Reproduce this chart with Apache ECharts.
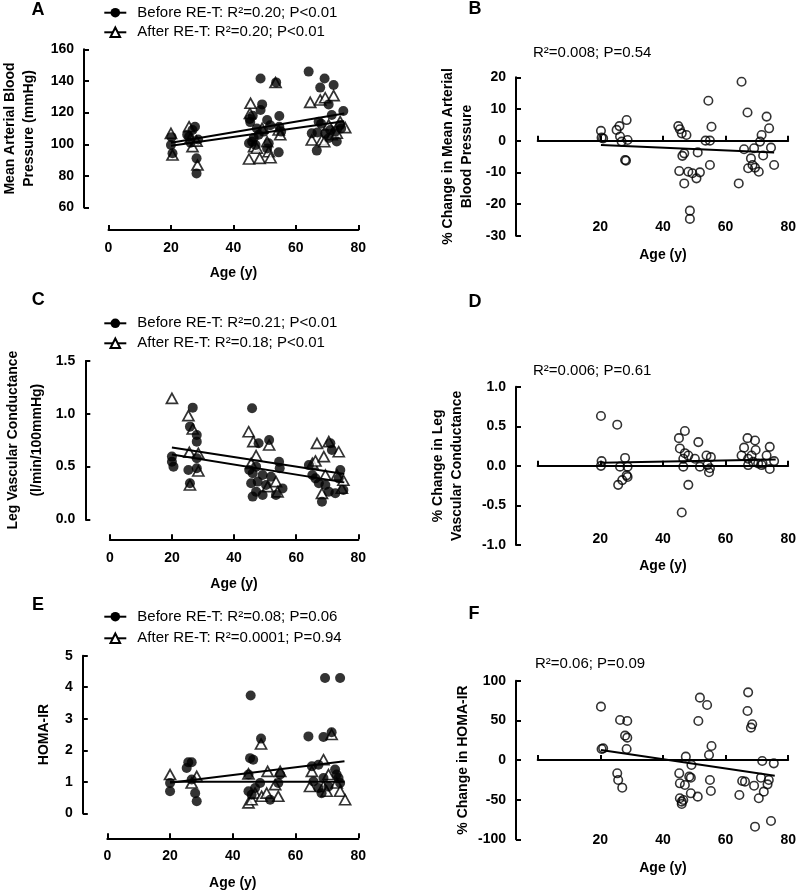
<!DOCTYPE html>
<html>
<head>
<meta charset="utf-8">
<script src="https://cdn.jsdelivr.net/npm/echarts@6/dist/echarts.min.js"></script>
<style>html,body{margin:0;padding:0;background:#fff}#c{width:799px;height:892px}</style>
</head>
<body>
<div id="c"></div>
<script>
// ---------------- DATA ----------------
const ageRange = [0, 80, 20];            // x axis: min, max, step
const mapRange = [60, 160, 20];          // A
const mapChangeRange = [-30, 20, 10];    // B
const lvcRange = [0, 1.5, 0.5];          // C
const lvcChangeRange = [-1, 1, 0.5];     // D
const homaRange = [0, 5, 1];             // E
const homaChangeRange = [-100, 100, 50]; // F

const legendA = ['Before RE-T: R²=0.20; P<0.01', 'After RE-T: R²=0.20; P<0.01'];
const legendC = ['Before RE-T: R²=0.21; P<0.01', 'After RE-T: R²=0.18; P<0.01'];
const legendE = ['Before RE-T: R²=0.08; P=0.06', 'After RE-T: R²=0.0001; P=0.94'];
const statB = 'R²=0.008; P=0.54';
const statD = 'R²=0.006; P=0.61';
const statF = 'R²=0.06; P=0.09';

// Panel A: mean arterial blood pressure [age, mmHg]
const aBefore = [
 [20.0,99.5],[20.5,94.3],[20.2,104.5],[25.2,106],[25.8,104.8],[26.3,101],[26.9,109],[27.7,111.1],[28.7,103],[28.2,91.1],[28.2,81.6],
 [45.0,100.6],[45.2,116],[45.4,114],[46.0,101.6],[46.2,118.1],[46.5,104],[47.1,99.5],[47.5,110],[48.1,106],[48.7,121.6],[48.7,141.6],[49.2,125.2],[49.7,108],[50.8,115.3],[50.8,97.4],[51.3,100.6],[51.8,112],[53.7,139.1],[54.7,117.9],[54.7,111.1],[54.5,94.9],[55.3,108],
 [64.1,145.9],[65.1,106.9],[66.9,107.5],[66.7,96],[67.3,114.3],[67.8,135.8],[68.1,113],[69.2,141.6],[69.4,106.9],[70.5,125.2],[70.6,104],[71.0,109],[71.5,118.5],[72.1,137.4],[72.6,108],[73.1,101.7],[74.2,112.2],[74.5,110],[75.2,121]
];
const aAfter = [
 [20.0,106.9],[20.5,93.2],[25.8,111.1],[26.3,104],[26.9,98.5],[28.5,86.9],[28.2,102],
 [45.0,90.7],[45.3,119.5],[45.5,125.9],[46.6,98.5],[47.5,97.5],[48.4,91.1],[49.2,110.1],[50.8,101.6],[51.3,95.3],[51.9,91.5],[53.5,139],[54.5,109],[55.0,106],
 [64.6,126.5],[65.1,102.7],[67.8,128],[68.3,102.7],[69.1,101.6],[69.4,129.4],[70.5,112.2],[71.5,106],[72.1,130.7],[73.1,107],[74.2,114.3],[75.8,110.5]
];
const aFitBefore = [[20, 101], [75.5, 119.5]];
const aFitAfter = [[20, 99], [75.5, 114.5]];

// Panel B: % change in MAP
const bChange = [
 [20.2,3.1],[20.4,0.95],[20.9,0.7],[25.2,3.4],[26.1,4.6],[28.4,6.5],[26.3,1.3],[26.8,-0.3],[28.7,0.2],[27.9,-6.1],[28.2,-6.3],
 [44.9,4.6],[45.4,3.6],[46.0,2.3],[47.5,1.8],[46.8,-4.0],[46.2,-4.8],[45.2,-9.6],[46.8,-13.5],[48.1,-9.8],[49.4,-10.3],[50.7,-11.9],[51.8,-10.0],[51.1,-3.7],[48.6,-22.1],[48.6,-24.7],[54.5,12.6],[55.5,4.4],[53.6,0],[55.0,0],[55.0,-7.7],
 [65.1,18.6],[67.0,8.9],[73.1,7.6],[73.9,3.9],[71.5,1.8],[71.0,-0.3],[74.5,-2.2],[65.9,-2.7],[69.1,-2.4],[72.0,-4.7],[68.1,-5.6],[67.2,-8.7],[68.6,-7.7],[69.4,-8.5],[70.6,-9.8],[75.5,-7.7],[64.2,-13.5]
];
const bFit = [[20.2, -1.4], [75.5, -3.7]];

// Panel C: leg vascular conductance
const cBefore = [
 [20.0,0.594],[20.0,0.546],[20.5,0.499],[25.3,0.467],[25.8,0.878],[25.8,0.341],[26.7,1.058],[28.0,0.799],[28.0,0.736],[28.0,0.578],[28.0,0.483],
 [44.9,0.467],[45.5,0.341],[45.8,1.052],[46.0,0.436],[46.0,0.215],[47.1,0.499],[47.1,0.262],[47.6,0.357],[47.9,0.72],[49.2,0.42],[49.2,0.23],[50.3,0.325],[51.3,0.752],[51.9,0.404],[53.5,0.23],[54.5,0.546],[54.7,0.483],[55.6,0.293],
 [64.1,0.515],[65.2,0.42],[66.2,0.388],[67.3,0.341],[68.3,0.167],[69.4,0.325],[70.5,0.262],[71.0,0.72],[71.5,0.657],[72.6,0.246],[73.7,0.388],[74.2,0.467],[75.2,0.278]
];
const cAfter = [
 [20.0,1.146],[25.3,0.982],[25.6,0.635],[25.8,0.325],[26.7,0.856],[28.5,0.625],[28.5,0.458],
 [44.7,0.83],[45.5,0.53],[46.2,0.736],[47.1,0.603],[50.8,0.31],[51.3,0.704],[53.5,0.357],[54.0,0.26],
 [65.2,0.53],[66.2,0.553],[66.7,0.72],[68.3,0.246],[68.9,0.594],[69.4,0.42],[70.5,0.736],[73.1,0.42],[73.7,0.64],[74.7,0.294],[75.2,0.37]
];
const cFitBefore = [[20, 0.615], [75.5, 0.35]];
const cFitAfter = [[20, 0.68], [75.5, 0.43]];

// Panel D: % change in leg vascular conductance
const dChange = [
 [20.2,0.63],[25.4,0.52],[20.4,0.06],[20.2,0.0],[27.9,0.10],[26.3,-0.01],[28.7,-0.01],[28.4,-0.12],[28.7,-0.14],[27.0,-0.18],[25.7,-0.24],
 [47.0,0.44],[45.1,0.35],[45.4,0.22],[47.0,0.16],[48.1,0.13],[46.5,0.09],[51.3,0.30],[50.2,0.09],[46.5,-0.01],[51.8,-0.01],[48.1,-0.24],[46.0,-0.59],[53.9,0.13],[55.3,0.11],[54.2,0.01],[55.0,-0.03],[54.7,-0.08],
 [67.0,0.35],[69.4,0.32],[65.9,0.23],[69.6,0.20],[74.1,0.24],[65.1,0.13],[73.1,0.13],[67.2,0.09],[68.8,0.05],[67.2,0.01],[70.4,0.03],[71.8,0.03],[75.5,0.06],[74.1,-0.04],[68.3,0.13],[71.5,0.01]
];
const dFit = [[20.2, 0.04], [76.0, 0.08]];

// Panel E: HOMA-IR
const eBefore = [
 [20.0,0.96],[20.0,0.70],[25.3,1.44],[25.8,1.62],[26.9,1.62],[26.9,1.07],[28.0,0.64],[28.5,0.38],
 [45.0,1.23],[45.0,0.70],[45.5,1.75],[45.7,3.74],[46.0,0.59],[46.5,1.70],[47.1,0.80],[48.7,0.96],[49.0,2.37],[51.9,0.43],[54.5,0.96],[55.1,1.23],
 [64.1,2.44],[65.2,1.49],[65.7,1.01],[67.3,1.54],[67.3,0.80],[68.3,0.64],[68.9,2.42],[68.9,1.12],[69.4,4.29],[70.5,0.85],[71.5,2.57],[72.6,1.39],[73.1,1.23],[73.7,1.12],[74.2,0.96],[74.2,4.29]
];
const eAfter = [
 [20.0,1.23],[26.9,0.96],[28.5,1.17],
 [45.0,1.25],[45.0,0.33],[46.0,0.43],[47.1,0.64],[49.0,2.2],[49.2,0.54],[50.8,0.64],[51.1,1.33],[53.5,0.91],[54.5,0.54],[55.1,1.33],
 [64.6,0.85],[65.2,1.33],[68.9,1.7],[68.9,0.85],[69.9,0.70],[70.5,1.23],[71.5,2.5],[73.1,0.96],[74.2,0.70],[75.8,0.43]
];
const eFitBefore = [[20, 0.97], [75.6, 1.65]];
const eFitAfter = [[20, 1.0], [75.6, 1.0]];

// Panel F: % change in HOMA-IR
const fChange = [
 [20.2,67.3],[20.4,13.9],[20.9,14.7],[26.3,50.4],[28.6,49.2],[27.9,30.7],[28.6,28.2],[28.4,13.9],[25.4,-16.8],[25.7,-25.2],[27.0,-34.9],
 [51.8,78.6],[54.1,69.4],[51.3,49.2],[55.5,17.7],[54.7,6.3],[47.3,4.2],[49.1,-6.3],[45.2,-16.8],[48.4,-21.0],[48.9,-22.3],[45.4,-29.4],[47.0,-31.5],[55.0,-25.2],[55.3,-39.1],[51.1,-46.2],[48.9,-42.0],[45.4,-48.3],[46.0,-52.5],[46.5,-50.4],[46.0,-55.5],
 [67.2,85.3],[67.0,61.8],[68.5,45.0],[68.1,40.8],[71.7,-1.3],[75.4,-4.2],[65.3,-26.5],[66.2,-27.3],[64.4,-44.1],[69.1,-32.4],[71.3,-22.3],[73.8,-25.2],[73.4,-30.7],[72.2,-39.9],[70.6,-48.3],[74.5,-76.9],[69.4,-84.1]
];
const fFit = [[20.2, 12.6], [75.7, -19.8]];

// ---------------- STYLE / LAYOUT ----------------
const FONT = '"Liberation Sans", Arial, Helvetica, sans-serif';
const BOLD14 = {fontFamily: FONT, fontSize: 14, fontWeight: 'bold', color: '#000'};
function tickIn() { return {show: true, inside: true, length: 5, lineStyle: {color: '#000', width: 2}}; }
function axLine(onZero) { return {show: true, onZero: onZero, lineStyle: {color: '#000', width: 2}}; }

function leftX(gi, offset, margin, nameGap) {
  return {type: 'value', gridIndex: gi, position: 'bottom', min: ageRange[0], max: ageRange[1], interval: ageRange[2], offset: offset,
    axisLine: axLine(false), axisTick: tickIn(), splitLine: {show: false},
    axisLabel: Object.assign({margin: margin}, BOLD14),
    name: 'Age (y)', nameLocation: 'middle', nameGap: nameGap, nameTextStyle: Object.assign({}, BOLD14)};
}
function rightXLine(gi) {
  return {type: 'value', gridIndex: gi, position: 'bottom', min: ageRange[0], max: ageRange[1], interval: ageRange[2],
    axisLine: axLine(true), axisTick: tickIn(), splitLine: {show: false}, axisLabel: {show: false}};
}
function rightXLabel(gi, offset, nameGap) {
  return {type: 'value', gridIndex: gi, position: 'bottom', min: ageRange[0], max: ageRange[1], interval: ageRange[2], offset: offset,
    axisLine: {show: false, onZero: false}, axisTick: {show: false}, splitLine: {show: false},
    axisLabel: Object.assign({margin: 0, formatter: function (v) { return v === 0 ? '' : String(v); }}, BOLD14),
    name: 'Age (y)', nameLocation: 'middle', nameGap: nameGap, nameTextStyle: Object.assign({}, BOLD14)};
}
function yAx(gi, range, offset, name, nameGap, lh, dec) {
  return {type: 'value', gridIndex: gi, position: 'left', min: range[0], max: range[1], interval: range[2], offset: offset,
    axisLine: axLine(false), axisTick: tickIn(), splitLine: {show: false},
    axisLabel: Object.assign({margin: 10, formatter: function (v) { return v.toFixed(dec); }}, BOLD14),
    name: name, nameLocation: 'middle', nameRotate: 90, nameGap: nameGap,
    nameTextStyle: Object.assign({lineHeight: lh}, BOLD14)};
}
function legendCfg(left, top, gap, names) {
  return {orient: 'vertical', left: left, top: top, padding: 0, itemGap: gap, itemWidth: 22, itemHeight: 12,
    selectedMode: false, data: names,
    textStyle: {fontFamily: FONT, fontSize: 15, color: '#000', lineHeight: 16, padding: [0, 0, 0, 6]}};
}
function filled(xi, yi, data) {
  return {type: 'scatter', xAxisIndex: xi, yAxisIndex: yi, data: data, symbol: 'circle', symbolSize: 10,
    itemStyle: {color: '#000'}, z: 3, silent: true};
}
function tri(xi, yi, data) {
  return {type: 'scatter', xAxisIndex: xi, yAxisIndex: yi, data: data, symbol: 'triangle', symbolSize: [11, 10],
    itemStyle: {color: '#fff', borderColor: '#000', borderWidth: 1.7}, z: 2, silent: true};
}
function openC(xi, yi, data) {
  return {type: 'scatter', xAxisIndex: xi, yAxisIndex: yi, data: data, symbol: 'circle', symbolSize: 8.5,
    itemStyle: {color: 'rgba(255,255,255,0)', borderColor: '#000', borderWidth: 1.6}, z: 3, silent: true};
}
function fit(name, xi, yi, data, sym, isFilled) {
  return {type: 'line', name: name, xAxisIndex: xi, yAxisIndex: yi, data: data, symbol: sym, showSymbol: false,
    lineStyle: {color: '#000', width: 2},
    itemStyle: isFilled ? {color: '#000'} : {color: '#fff', borderColor: '#000', borderWidth: 1.7},
    z: 5, silent: true};
}
function label(text, left, top, size, weight) {
  return {text: text, left: left, top: top, padding: 0,
    textStyle: {fontFamily: FONT, fontSize: size, fontWeight: weight, color: '#000', lineHeight: size}};
}

const gridsPx = [
  {left: 107.3, top: 49.3, width: 251, height: 158.3},   // A
  {left: 537.7, top: 77.3, width: 250.6, height: 158.4}, // B
  {left: 107.3, top: 361, width: 251, height: 158.3},    // C
  {left: 537.7, top: 386.7, width: 250.6, height: 158.3},// D
  {left: 107.3, top: 655.7, width: 251, height: 157.6},  // E
  {left: 537.7, top: 680.7, width: 250.6, height: 158.6} // F
];

const option = {
  animation: false,
  backgroundColor: '#fff',
  textStyle: {fontFamily: FONT},
  grid: gridsPx.map(g => Object.assign({}, g)),
  xAxis: [
    leftX(0, 22.4, 11, 36),        // 0 A
    rightXLine(1),                 // 1 B line
    rightXLabel(1, -16, 28.3),     // 2 B labels
    leftX(2, 20, 12, 37.7),        // 3 C
    rightXLine(3),                 // 4 D line
    rightXLabel(3, -12.7, 26.7),   // 5 D labels
    leftX(4, 25, 10.4, 38),        // 6 E
    rightXLine(5),                 // 7 F line
    rightXLabel(5, -6.3, 28.3)     // 8 F labels
  ],
  yAxis: [
    yAx(0, mapRange, 24.5, 'Mean Arterial Blood\nPressure (mmHg)', 45, 19, 0),
    yAx(1, mapChangeRange, 21.7, '% Change in Mean Arterial\nBlood Pressure', 40, 18.5, 0),
    yAx(2, lvcRange, 24.5, 'Leg Vascular Conductance\n(l/min/100mmHg)', 36.3, 24, 1),
    yAx(3, lvcChangeRange, 21.7, '% Change in Leg\nVascular Conductance', 50, 18.5, 1),
    yAx(4, homaRange, 24.5, 'HOMA-IR', 31, 16, 0),
    yAx(5, homaChangeRange, 21.7, '% Change in HOMA-IR', 44.7, 16, 0)
  ],
  legend: [
    legendCfg(103.3, 4.7, 3.6, legendA),
    legendCfg(103.3, 315.3, 4, legendC),
    legendCfg(103.3, 608.7, 5.6, legendE)
  ],
  title: [
    label('A', 31.5, 1, 18, 'bold'),
    label('B', 468.5, 0, 18, 'bold'),
    label('C', 31.8, 291.5, 18, 'bold'),
    label('D', 468.5, 292.7, 18, 'bold'),
    label('E', 32, 596.5, 18, 'bold'),
    label('F', 468.5, 605, 18, 'bold'),
    label(statB, 533, 45, 15, 'normal'),
    label(statD, 533, 363, 15, 'normal'),
    label(statF, 535, 656, 15, 'normal')
  ],
  series: [
    tri(0, 0, aAfter), filled(0, 0, aBefore),
    fit(legendA[0], 0, 0, aFitBefore, 'circle', true), fit(legendA[1], 0, 0, aFitAfter, 'triangle', false),
    openC(1, 1, bChange), fit('B fit', 1, 1, bFit, 'none', true),
    tri(3, 2, cAfter), filled(3, 2, cBefore),
    fit(legendC[0], 3, 2, cFitBefore, 'circle', true), fit(legendC[1], 3, 2, cFitAfter, 'triangle', false),
    openC(4, 3, dChange), fit('D fit', 4, 3, dFit, 'none', true),
    tri(6, 4, eAfter), filled(6, 4, eBefore),
    fit(legendE[0], 6, 4, eFitBefore, 'circle', true), fit(legendE[1], 6, 4, eFitAfter, 'triangle', false),
    openC(7, 5, fChange), fit('F fit', 7, 5, fFit, 'none', true)
  ]
};

const chart = echarts.init(document.getElementById('c'), null, {renderer: 'canvas'});
chart.setOption(option);
</script>
</body>
</html>
